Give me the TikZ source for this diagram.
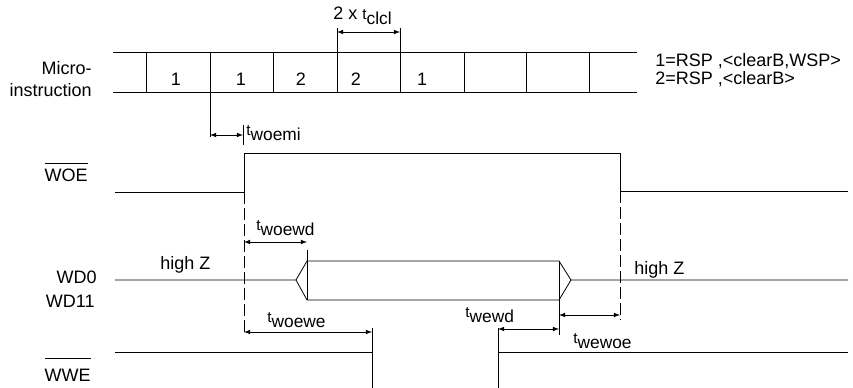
\documentclass[tikz,border=0pt]{standalone}
\usepackage{fontspec}
\setmainfont{Liberation Sans}
\newcommand{\tdel}[1]{{\fontsize{11.5}{12}\selectfont t\raisebox{-4pt}{\fontsize{13}{14}\selectfont #1}}}
\newcommand{\ovl}[2][13pt]{$\overline{\rule{0pt}{#1}\mbox{#2}}$}

\begin{document}
\begin{tikzpicture}[
                x=0.75pt, y=-0.75pt, line width=0.6pt,
                txt/.style={inner sep=0pt, font=\fontsize{13.5}{15}\selectfont},
                dim/.style={latex-latex},
                guide/.style={dash pattern=on 9pt off 3pt}
            ]
            \useasboundingbox (0,0) rectangle (853,388);
            % instruction band
            \draw (113,52) -- (637,52) (113,92) -- (637,92);
            \foreach \x in {146,210,273,337,400,464,526,589}
            \draw (\x,52) coordinate (top\x) -- (\x,92) coordinate (bot\x);
            % cell numbers (x/number)
            \foreach \x/\n in {176/1,241/1,301/2,356/2,422/1}
            \node[txt] (n\x) at (\x,79) {\n};
            \node[txt, anchor=base east] (micro) at (92,75) {Micro-};
            \node[txt, anchor=base east] (instr) at (92,97) {instruction};
            \node[txt, anchor=base west] (leg1) at (655,67) {1=RSP ,<clearB,WSP>};
            \node[txt, anchor=base west] (leg2) at (655,85) {2=RSP ,<clearB>};
            % 2 x tclcl
            \draw (top337) -- (337,28) coordinate (cl1);
            \draw (top400) -- (400,28) coordinate (cl2);
            \coordinate (clA) at (337,32);
            \coordinate (clB) at (400,32);
            \draw[dim] (clA) -- (clB);
            \node[txt, anchor=south west] (tclcl) at (333,25) {2 x \tdel{clcl}};
            % WOE
            \node[txt, anchor=base east] (woe) at (88,182) {\ovl{WOE}};
            \draw (115,192) -- (244,192) coordinate (woeR) -- (244,153) -- (620,153)
                -- (620,191) coordinate (woeF) -- (848,191);
            \draw[guide] (woeR) -- (244,335);
            \draw[guide] (woeF) -- (620,320);
            % twoemi
            \draw (bot210) -- (210,137);
            \draw (243,125) -- (243,145);
            \coordinate (emA) at (210,135);
            \coordinate (emB) at (243,135);
            \draw[dim] (emA) -- (emB);
            \node[txt, anchor=south west] (twoemi) at (246,141) {\tdel{woemi}};
            % WD0 .. WD11 bus
            \node[txt, anchor=base east] (wda) at (97,284) {WD0};
            \node[txt, anchor=base east] (wdb) at (95,308) {WD11};
            \draw (115,280) -- (296,280) coordinate (busL) -- (307,261) -- (559,261)
                -- (571,280) coordinate (busR) -- (848,280);
            \draw (busL) -- (307,300) -- (559,300) -- (busR);
            \draw (307,250) -- (307,300);
            \draw (559,261) -- (559,335);
            \node[txt, anchor=base west] (hzL) at (160,270) {high Z};
            \node[txt, anchor=base west] (hzR) at (634,275) {high Z};
            % twoewd
            \coordinate (wdA) at (244,242);
            \coordinate (wdB) at (307,242);
            \draw[dim] (wdA) -- (wdB);
            \node[txt, anchor=south west] (twoewd) at (256,236) {\tdel{woewd}};
            % WWE
            \node[txt, anchor=base east] (wwe) at (91,381) {\ovl[15.5pt]{WWE}};
            \draw (115,352) -- (372,352) -- (372,388);
            \draw (498,388) -- (498,352) -- (848,352);
            \draw (372,328) -- (372,352) (498,328) -- (498,352);
            % delays (start/end/label/name/label x/label y)
            \foreach \a/\b/\y/\lab/\nm/\lx/\ly in {
            244/372/332/woewe/twoewe/267/328,
            498/559/329/wewd/twewd/465/323,
            559/620/315/wewoe/twewoe/573/349}
            {
            \coordinate (\nm A) at (\a,\y);
            \coordinate (\nm B) at (\b,\y);
            \draw[dim] (\nm A) -- (\nm B);
            \node[txt, anchor=south west] (\nm) at (\lx,\ly) {\tdel{\lab}};
            }
        \end{tikzpicture}
\end{document}
